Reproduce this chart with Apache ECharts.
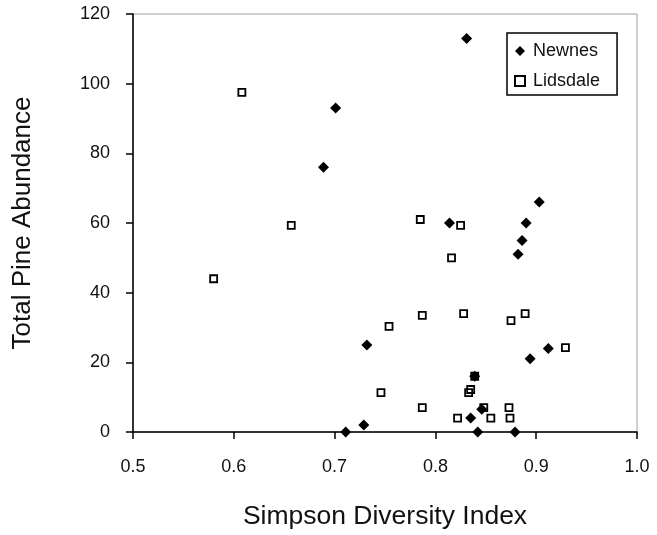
<!DOCTYPE html>
<html>
<head>
<meta charset="utf-8">
<script src="https://cdn.jsdelivr.net/npm/echarts@6/dist/echarts.min.js"></script>
<style>
  html, body { margin: 0; padding: 0; background: #fff; }
  #main { width: 657px; height: 535px; }
</style>
</head>
<body>
<div id="main"></div>
<script>
// Newnes sites (diversity index, pine count)
let newnesX = [0.831, 0.701, 0.689, 0.903, 0.814, 0.890, 0.886, 0.882, 0.912, 0.894, 0.839, 0.835, 0.842, 0.879, 0.732, 0.729, 0.711, 0.846];
let newnesY = [113, 93, 76, 66, 60, 60, 55, 51, 24, 21, 16, 4, 0, 0, 25, 2, 0, 6.5];
// Lidsdale sites
let lidsdaleX = [0.608, 0.657, 0.580, 0.785, 0.825, 0.816, 0.787, 0.754, 0.828, 0.875, 0.889, 0.929, 0.746, 0.835, 0.833, 0.787, 0.848, 0.873, 0.822, 0.855, 0.874, 0.839];
let lidsdaleY = [97.5, 59.3, 44, 61, 59.3, 50, 33.5, 30.3, 34, 32, 34, 24.2, 11.3, 12.2, 11.3, 7, 7, 7, 4, 4, 4, 16];
let xTicks = [0.5, 0.6, 0.7, 0.8, 0.9, 1.0];

let pairs = (xs, ys) => xs.map((x, i) => [x, ys[i]]);

let chart = echarts.init(document.getElementById('main'));
chart.setOption({
  animation: false,
  textStyle: { fontFamily: 'Liberation Sans, Arial, sans-serif' },
  grid: {
    left: 133, right: 20, top: 14, bottom: 103,
    show: true, borderColor: '#a0a0a0', borderWidth: 1
  },
  legend: {
    orient: 'vertical',
    left: 507, top: 33,
    padding: [9, 17, 5, 7],
    itemGap: 12,
    itemWidth: 10, itemHeight: 10,
    borderColor: '#000', borderWidth: 1.5,
    textStyle: { fontSize: 18, color: '#111', padding: [0, 0, 0, 3] },
    data: [
      { name: 'Newnes', icon: 'diamond' },
      { name: 'Lidsdale', icon: 'rect' }
    ]
  },
  xAxis: {
    type: 'value',
    min: 0.5, max: 1.0, interval: 0.1,
    name: 'Simpson Diversity Index',
    nameLocation: 'middle', nameGap: 71,
    nameTextStyle: { fontSize: 26.5, color: '#111' },
    axisLine: { lineStyle: { color: '#000', width: 1.5 } },
    axisTick: { inside: false, length: 7, lineStyle: { color: '#000', width: 1.5 } },
    axisLabel: {
      fontSize: 18, color: '#111', margin: 26,
      formatter: v => xTicks.includes(+v.toFixed(1)) ? v.toFixed(1) : ''
    },
    splitLine: { show: false }
  },
  yAxis: {
    type: 'value',
    min: 0, max: 120, interval: 20,
    name: 'Total Pine Abundance',
    nameLocation: 'middle', nameGap: 97,
    nameTextStyle: { fontSize: 26, color: '#111' },
    axisLine: { lineStyle: { color: '#000', width: 1.5 } },
    axisTick: { inside: false, length: 7, lineStyle: { color: '#000', width: 1.5 } },
    axisLabel: { fontSize: 18, color: '#111', margin: 23 },
    splitLine: { show: false }
  },
  series: [
    {
      name: 'Newnes',
      type: 'scatter',
      symbol: 'diamond',
      symbolSize: 11,
      itemStyle: { color: '#000', opacity: 1 },
      data: pairs(newnesX, newnesY)
    },
    {
      name: 'Lidsdale',
      type: 'scatter',
      symbol: 'rect',
      symbolSize: 7,
      itemStyle: { color: 'rgba(0,0,0,0)', borderColor: '#000', borderWidth: 1.8, opacity: 1 },
      data: pairs(lidsdaleX, lidsdaleY)
    }
  ]
});
</script>
</body>
</html>
